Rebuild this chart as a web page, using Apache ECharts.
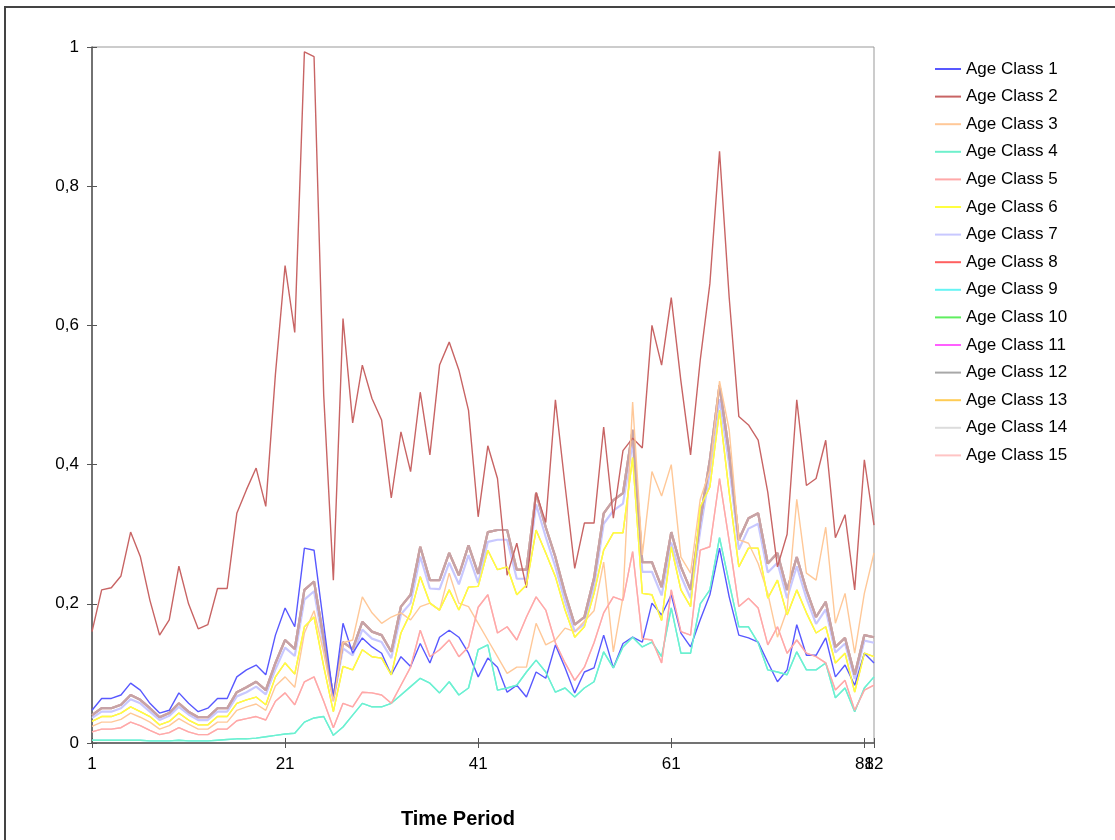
<!DOCTYPE html>
<html><head><meta charset="utf-8">
<script src="https://cdn.jsdelivr.net/npm/echarts@6/dist/echarts.min.js"></script>
<style>html,body{margin:0;padding:0;background:#fff}#c{width:1115px;height:840px}</style>
</head><body><div id="c"></div>
<script>
// Time periods 1..82
const timeStart = 1, timeEnd = 82;
const xTicks = [1, 21, 41, 61, 81, 82];
const yTicks = ['0', '0,2', '0,4', '0,6', '0,8', '1'];

const ageClass1 = [
0.047,0.064,0.064,0.069,0.086,0.076,0.057,0.043,0.047,0.072,
0.057,0.045,0.050,0.064,0.064,0.095,0.105,0.112,0.098,0.155,
0.194,0.167,0.280,0.277,0.170,0.065,0.172,0.129,0.151,0.138,
0.129,0.098,0.124,0.110,0.143,0.115,0.152,0.162,0.152,0.129,
0.095,0.122,0.109,0.073,0.083,0.066,0.102,0.093,0.141,0.108,
0.072,0.102,0.108,0.155,0.108,0.143,0.152,0.145,0.201,0.184,
0.213,0.158,0.138,0.177,0.213,0.280,0.210,0.155,0.151,0.145,
0.116,0.088,0.105,0.170,0.126,0.126,0.151,0.095,0.112,0.083,
0.129,0.115];
const ageClass2 = [
0.160,0.220,0.223,0.240,0.303,0.268,0.205,0.155,0.177,0.254,
0.200,0.164,0.170,0.222,0.222,0.330,0.364,0.395,0.340,0.530,
0.686,0.590,0.993,0.986,0.500,0.234,0.610,0.460,0.543,0.495,
0.464,0.352,0.447,0.390,0.504,0.414,0.543,0.576,0.536,0.478,
0.325,0.427,0.380,0.241,0.287,0.223,0.360,0.317,0.493,0.370,
0.251,0.316,0.316,0.454,0.323,0.420,0.438,0.424,0.600,0.543,
0.640,0.520,0.414,0.550,0.660,0.850,0.640,0.469,0.457,0.435,
0.360,0.253,0.300,0.493,0.370,0.380,0.435,0.295,0.328,0.220,
0.407,0.313];
const ageClass3 = [
0.024,0.030,0.030,0.034,0.043,0.037,0.030,0.020,0.025,0.035,
0.027,0.020,0.020,0.030,0.030,0.047,0.052,0.056,0.047,0.082,
0.095,0.080,0.158,0.190,0.130,0.060,0.144,0.148,0.210,0.187,
0.172,0.181,0.187,0.177,0.196,0.201,0.191,0.244,0.201,0.196,
0.172,0.148,0.124,0.100,0.109,0.109,0.172,0.141,0.148,0.165,
0.160,0.175,0.190,0.260,0.131,0.210,0.490,0.270,0.390,0.355,
0.400,0.267,0.244,0.350,0.392,0.520,0.450,0.292,0.287,0.258,
0.215,0.152,0.191,0.350,0.244,0.234,0.310,0.172,0.215,0.129,
0.215,0.273];
const ageClass4 = [
0.004,0.004,0.004,0.004,0.004,0.004,0.003,0.003,0.003,0.004,
0.003,0.003,0.003,0.004,0.005,0.006,0.006,0.007,0.009,0.011,
0.013,0.014,0.030,0.036,0.038,0.011,0.023,0.040,0.057,0.052,
0.052,0.057,0.069,0.081,0.093,0.086,0.072,0.088,0.069,0.079,
0.134,0.141,0.076,0.079,0.083,0.102,0.119,0.102,0.073,0.079,
0.066,0.079,0.088,0.131,0.108,0.138,0.152,0.138,0.145,0.124,
0.194,0.129,0.129,0.200,0.220,0.295,0.230,0.167,0.167,0.144,
0.105,0.102,0.098,0.131,0.105,0.105,0.115,0.065,0.079,0.045,
0.079,0.095];
const ageClass5 = [
0.016,0.020,0.020,0.022,0.030,0.025,0.018,0.012,0.015,0.022,
0.016,0.012,0.012,0.020,0.020,0.032,0.035,0.038,0.033,0.060,
0.072,0.055,0.088,0.095,0.060,0.022,0.057,0.052,0.073,0.072,
0.069,0.057,0.083,0.109,0.162,0.124,0.134,0.148,0.124,0.138,
0.195,0.213,0.158,0.167,0.148,0.181,0.210,0.191,0.144,0.115,
0.090,0.109,0.144,0.187,0.210,0.205,0.275,0.150,0.148,0.115,
0.220,0.160,0.155,0.277,0.282,0.380,0.290,0.196,0.208,0.194,
0.141,0.167,0.129,0.148,0.129,0.124,0.115,0.076,0.090,0.047,
0.076,0.083];
const ageClass6 = [
0.031,0.038,0.038,0.043,0.052,0.045,0.038,0.026,0.031,0.043,
0.033,0.026,0.026,0.038,0.038,0.057,0.062,0.066,0.055,0.095,
0.115,0.099,0.167,0.181,0.110,0.045,0.110,0.105,0.134,0.124,
0.122,0.098,0.158,0.187,0.239,0.201,0.191,0.220,0.191,0.224,
0.225,0.277,0.249,0.253,0.213,0.227,0.306,0.273,0.239,0.191,
0.152,0.167,0.215,0.277,0.302,0.302,0.410,0.215,0.213,0.176,
0.282,0.220,0.196,0.339,0.368,0.478,0.360,0.253,0.280,0.280,
0.208,0.234,0.184,0.220,0.187,0.158,0.167,0.115,0.129,0.073,
0.129,0.124];
const ageClass7 = [
0.036,0.045,0.045,0.050,0.063,0.057,0.045,0.033,0.039,0.052,
0.041,0.033,0.033,0.045,0.045,0.067,0.073,0.081,0.070,0.106,
0.137,0.125,0.206,0.218,0.140,0.060,0.136,0.126,0.163,0.150,
0.145,0.122,0.185,0.201,0.268,0.222,0.221,0.259,0.228,0.270,
0.230,0.289,0.292,0.292,0.236,0.236,0.343,0.296,0.253,0.203,
0.160,0.171,0.225,0.315,0.334,0.344,0.432,0.246,0.246,0.212,
0.288,0.240,0.208,0.305,0.390,0.494,0.400,0.278,0.308,0.315,
0.245,0.259,0.208,0.254,0.208,0.171,0.192,0.130,0.143,0.092,
0.147,0.144];
// Classes 8, 10, 11, 12, 14 coincide in the picture (the brownish band)
const ageClassBand = [
0.040,0.050,0.050,0.055,0.069,0.062,0.050,0.037,0.043,0.057,
0.045,0.037,0.037,0.050,0.050,0.073,0.080,0.088,0.076,0.115,
0.148,0.135,0.220,0.232,0.150,0.065,0.145,0.135,0.174,0.160,
0.155,0.131,0.196,0.213,0.282,0.234,0.234,0.273,0.241,0.284,
0.243,0.303,0.306,0.306,0.249,0.249,0.359,0.310,0.267,0.215,
0.170,0.181,0.237,0.330,0.349,0.359,0.450,0.260,0.260,0.224,
0.303,0.253,0.220,0.320,0.407,0.514,0.417,0.292,0.323,0.330,
0.258,0.273,0.220,0.267,0.220,0.181,0.203,0.138,0.151,0.098,
0.155,0.152];
const ageClass9 = ageClass4;   // drawn on top of class 4 in the picture
const ageClass13 = ageClass6;  // hidden under class 6
const ageClass15 = ageClass5;  // hidden under class 5

const names = ['Age Class 1','Age Class 2','Age Class 3','Age Class 4','Age Class 5',
  'Age Class 6','Age Class 7','Age Class 8','Age Class 9','Age Class 10',
  'Age Class 11','Age Class 12','Age Class 13','Age Class 14','Age Class 15'];
const seriesValues = [ageClass1, ageClass2, ageClass3, ageClass4, ageClass5,
  ageClass6, ageClass7, ageClassBand, ageClass9, ageClassBand,
  ageClassBand, ageClassBand, ageClass13, ageClassBand, ageClass15];
const colors = ['#5858ff','#c86464','#ffc898','#6ff0cc','#ffa8a8',
  '#ffff40','#c8c8ff','#ff6060','#66f4f4','#60ee60',
  '#ff60ff','#a8a8a8','#ffcc55','#dcdcdc','#ffc4c4'];
const widths  = [1.4,1.4,1.4,1.4,1.4, 1.4,2.2,2.2,1.4,2.2, 2.2,2.2,1.4,2.2,1.4];
const opac    = [1,1,1,1,1, 1,1,1,1,0.5, 0.34,0.25,1,0.2,1];
const zs      = [3,3,3,3,3, 3,2,2,1,2, 2,2,1,2,1];

const FONT = '"Liberation Sans", Arial, sans-serif';
const chart = echarts.init(document.getElementById('c'), null, {renderer: 'canvas'});

const series = seriesValues.map((vals, i) => ({
  name: names[i], type: 'line', symbol: 'none', showSymbol: false,
  data: vals.map((v, j) => [timeStart + j, v]),
  lineStyle: {color: colors[i], width: widths[i], opacity: opac[i]},
  itemStyle: {color: colors[i]},
  z: zs[i], silent: true, animation: false
}));

const fmtY = v => { const k = Math.round(v * 5); return yTicks[k] !== undefined ? yTicks[k] : String(v).replace('.', ','); };
// axis 0 shows all labels except the last one; axis 1 shows only the last one,
// so that the overlapping "81" and "82" are both drawn as in the picture
const fmtX0 = v => (Math.round(v) === timeEnd ? '' : String(Math.round(v)));
const fmtX1 = v => (Math.round(v) === timeEnd ? String(timeEnd) : '');

chart.setOption({
  backgroundColor: '#fff',
  animation: false,
  textStyle: {fontFamily: FONT},
  graphic: [{type: 'rect', shape: {x: 5, y: 7, width: 1200, height: 1000},
    style: {fill: 'none', stroke: '#444', lineWidth: 2}, silent: true}],
  grid: {left: 92, top: 47, width: 782, height: 696, show: true, borderColor: '#999', borderWidth: 1, backgroundColor: 'transparent'},
  legend: {
    orient: 'vertical', left: 930, top: 55.5, itemWidth: 26, itemHeight: 2, itemGap: 10.6,
    icon: 'rect',
    textStyle: {fontSize: 17, color: '#000', fontFamily: FONT},
    data: names.map((n, i) => ({name: n, icon: 'rect', itemStyle: {color: colors[i], opacity: 1}})),
    selectedMode: false
  },
  xAxis: [{
    type: 'value', min: timeStart, max: timeEnd, interval: 20,
    axisLine: {lineStyle: {color: '#555', width: 1.5}},
    axisTick: {length: 5, lineStyle: {color: '#555'}},
    axisLabel: {fontSize: 17, color: '#000', margin: 13, fontFamily: FONT, formatter: fmtX0, showMaxLabel: true, showMinLabel: true},
    splitLine: {show: false},
    name: 'Time Period', nameLocation: 'middle', nameGap: 66,
    nameTextStyle: {fontSize: 20, fontWeight: 'bold', color: '#000', fontFamily: FONT, padding: [0, 50, 0, 0]}
  }, {
    type: 'value', min: timeStart, max: timeEnd, interval: 20, position: 'bottom',
    axisLine: {show: false}, axisTick: {inside: true, length: 5, lineStyle: {color: '#555'}},
    axisLabel: {show: true, fontSize: 17, color: '#000', margin: 13, fontFamily: FONT, formatter: fmtX1, showMaxLabel: true, showMinLabel: true},
    splitLine: {show: false}
  }],
  yAxis: [{
    type: 'value', min: 0, max: 1, interval: 0.2,
    axisLine: {show: true, lineStyle: {color: '#555', width: 1.5}},
    axisTick: {show: true, length: 5, lineStyle: {color: '#555'}},
    axisLabel: {fontSize: 17, color: '#000', margin: 13, fontFamily: FONT, formatter: fmtY},
    splitLine: {show: false}
  }, {
    type: 'value', min: 0, max: 1, interval: 0.2, position: 'left',
    axisLine: {show: false}, axisTick: {show: true, inside: true, length: 5, lineStyle: {color: '#555'}},
    axisLabel: {show: false}, splitLine: {show: false}
  }],
  series: series
});
</script></body></html>
